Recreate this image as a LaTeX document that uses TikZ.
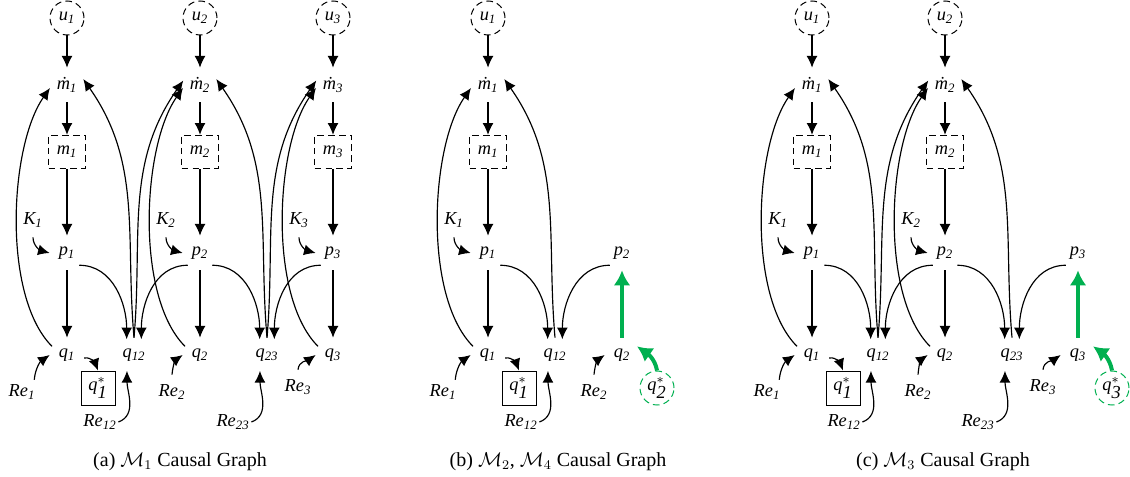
\documentclass[tikz,border=0pt]{standalone}
\usepackage{fontspec}
\setmainfont{Liberation Serif}
\usetikzlibrary{arrows.meta}
\definecolor{fixgreen}{RGB}{0,176,80}
\tikzset{
    var/.style={shape=circle,minimum size=20.4pt,inner sep=0,font=\fontsize{11}{13}\selectfont\itshape},
    noise/.style={var,draw,dash pattern=on 4pt off 2.5pt,line width=0.6pt},
    mem/.style={shape=rectangle,draw,dash pattern=on 4pt off 2.5pt,line width=0.6pt,minimum width=22pt,minimum height=20pt,inner sep=0,font=\fontsize{11}{13}\selectfont\itshape},
    target/.style={shape=rectangle,draw,line width=0.6pt,minimum size=20.4pt,inner sep=0,font=\fontsize{11}{13}\selectfont\itshape},
    link/.style={-{Latex[length=7pt,width=6.5pt]},line width=0.7pt},
    fix/.style={-{Latex[length=9pt,width=10pt]},line width=2.4pt,draw=fixgreen},
    caption/.style={font=\fontsize{12}{14}\selectfont}
}

\begin{document}
\begin{tikzpicture}[x=0.6pt,y=0.6pt]
    \useasboundingbox (0,0) rectangle (1130,-477);

    % p and q of every column
    \foreach \pn/\n/\x in {a/1/67,a/2/200,a/3/333,b/1/488,b/2/622,c/1/812,c/2/945,c/3/1078} {
        \node[var] (\pn p\n) at (\x,-253) {p\textsubscript{\n}};
        \node[var] (\pn q\n) at (\x,-355) {q\textsubscript{\n}};
    }

    % Re_i into q_i
    \foreach \pn/\n/\x/\y/\anc in {a/1/22/392/north east,a/2/172/392/north,a/3/298/387/north,
                                  b/1/443/392/north east,b/2/594/392/north,
                                  c/1/767/392/north east,c/2/918/392/north,c/3/1043/387/north} {
        \node[var] (\pn Re\n) at (\x,-\y) {Re\textsubscript{\n}};
        \draw[link] (\pn Re\n.\anc) to[out=85,in=215] (\pn q\n.west);
    }

    % full columns: u -> mdot -> m -> p -> q
    \foreach \pn/\n/\x in {a/1/67,a/2/200,a/3/333,b/1/488,c/1/812,c/2/945} {
        \node[noise] (\pn u\n) at (\x,-18) {u\textsubscript{\n}};
        \node[var] (\pn md\n) at (\x,-85) {\.{m}\textsubscript{\n}};
        \node[mem] (\pn m\n) at (\x,-152) {m\textsubscript{\n}};
        \node[var] (\pn K\n) at (\x-34,-220) {K\textsubscript{\n}};
        \draw[link] (\pn u\n) -- (\pn md\n);
        \draw[link] (\pn md\n) -- (\pn m\n);
        \draw[link] (\pn m\n) -- (\pn p\n);
        \draw[link] (\pn p\n) -- (\pn q\n);
        \draw[link] (\pn K\n.south) to[out=-90,in=165] (\pn p\n.west);
        \draw[link] (\pn q\n.150) to[out=135,in=235,looseness=0.7] (\pn md\n.190);
    }

    % shared flows q_ij
    \foreach \pn/\lf/\rt/\x in {a/1/2/134,a/2/3/267,b/1/2/555,c/1/2/878,c/2/3/1012} {
        \node[var] (\pn q\lf\rt) at (\x,-355) {q\textsubscript{\lf\rt}};
        \node[var] (\pn Re\lf\rt) at (\x-34,-422) {Re\textsubscript{\lf\rt}};
        \draw[link] (\pn p\lf.-45) to[out=0,in=90] (\pn q\lf\rt.115);
        \draw[link] (\pn p\rt.225) to[out=180,in=90] (\pn q\lf\rt.65);
        \draw[link] (\pn Re\lf\rt.east) to[out=20,in=-90] (\pn q\lf\rt.246);
        \draw[link] (\pn q\lf\rt.north) to[out=95,in=-55] (\pn md\lf.20);
    }
    \foreach \pn/\lf/\rt in {a/1/2,a/2/3,c/1/2} {
        \draw[link] (\pn q\lf\rt.north) to[out=85,in=235] (\pn md\rt.165);
    }

    % target q_1^*
    \foreach \pn/\x in {a/98,b/519,c/843} {
        \node[target] (\pn qs1) at (\x,-388) {$\textit{q}^{*}_{\textit{1}}$};
        \draw[link] (\pn q1.-10) to[out=10,in=110] (\pn qs1.north);
    }

    % interventions
    \node[noise,draw=fixgreen] (bqs2) at (657,-388) {$\textit{q}^{*}_{\textit{2}}$};
    \draw[fix] (bq2) -- (bp2);
    \draw[fix] (bqs2.north) to[out=100,in=-35] (bq2.30);
    \node[noise,draw=fixgreen] (cqs3) at (1112,-388) {$\textit{q}^{*}_{\textit{3}}$};
    \draw[fix] (cq3) -- (cp3);
    \draw[fix] (cqs3.north) to[out=100,in=-35] (cq3.30);

    \node[caption] (capa) at (180,-462) {(a) $\mathcal{M}_1$ Causal Graph};
    \node[caption] (capb) at (558,-462) {(b) $\mathcal{M}_2$, $\mathcal{M}_4$ Causal Graph};
    \node[caption] (capc) at (943,-462) {(c) $\mathcal{M}_3$ Causal Graph};
\end{tikzpicture}
\end{document}
